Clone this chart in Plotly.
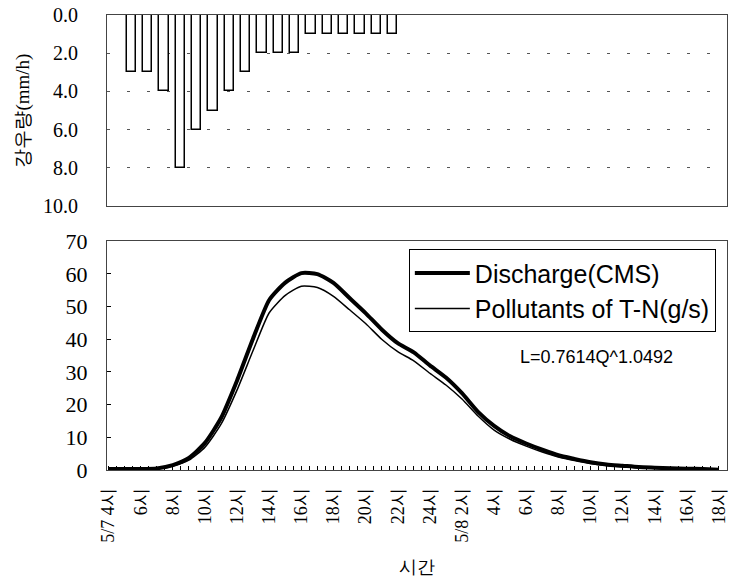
import plotly.graph_objects as go

# ---- data ----
hours = list(range(39))  # hour offsets from 5/7 04:00
tick_hours = list(range(0, 39, 2))
tick_labels = ["5/7 4시", "6시", "8시", "10시", "12시", "14시", "16시", "18시", "20시",
               "22시", "24시", "5/8 2시", "4시", "6시", "8시", "10시", "12시", "14시",
               "16시", "18시"]

rain_slot = list(range(1, 18))
rain = [3, 3, 4, 8, 6, 5, 4, 3, 2, 2, 2, 1, 1, 1, 1, 1, 1]

discharge = [0.3, 0.3, 0.3, 0.5, 1.5, 3.7, 8.3, 15.9, 27.4, 40.3, 52.0, 57.3, 60.2,
             59.9, 57.2, 52.6, 48.0, 43.0, 38.8, 36.0, 32.0, 28.3, 23.5, 17.8, 13.5,
             10.3, 8.1, 6.2, 4.5, 3.4, 2.4, 1.7, 1.3, 0.9, 0.7, 0.5, 0.4, 0.3, 0.1]
pollutant = [0.2, 0.2, 0.2, 0.4, 1.2, 3.0, 7.0, 14.0, 24.5, 36.6, 48.1, 53.4, 56.2,
             55.8, 53.1, 49.0, 44.8, 40.0, 36.2, 33.4, 29.6, 26.0, 21.7, 16.5, 12.2,
             9.4, 7.3, 5.5, 4.0, 2.9, 2.0, 1.4, 1.0, 0.7, 0.5, 0.4, 0.3, 0.2, 0.1]

serif = "Liberation Serif"
sans = "Liberation Sans"

fig = go.Figure()

fig.add_trace(go.Bar(x=rain_slot, y=rain, width=0.57,
                     marker=dict(color="white", line=dict(color="black", width=1.5)),
                     xaxis="x", yaxis="y", showlegend=False))

fig.add_trace(go.Scatter(x=hours, y=discharge, mode="lines", name="Discharge(CMS)",
                         line=dict(color="black", width=4, shape="spline", smoothing=0.6),
                         xaxis="x2", yaxis="y2"))
fig.add_trace(go.Scatter(x=hours, y=pollutant, mode="lines", name="Pollutants of T-N(g/s)",
                         line=dict(color="black", width=1.5, shape="spline", smoothing=0.6),
                         xaxis="x2", yaxis="y2"))

grid_style = dict(gridcolor="#555", gridwidth=1, griddash="3px,17px")

fig.update_layout(
    template="none",
    font=dict(family=serif, color="black"),
    width=730, height=582,
    margin=dict(l=107, r=3, t=15, b=112),
    paper_bgcolor="white", plot_bgcolor="white",
    xaxis=dict(domain=[0, 1], anchor="y", range=[-0.5, 37.5], showticklabels=False,
               ticks="", showgrid=False, zeroline=False, showline=True, mirror=True,
               linecolor="#444", linewidth=1),
    yaxis=dict(domain=[0.58, 1], anchor="x", range=[10, 0], tickvals=[0, 2, 4, 6, 8, 10],
               tickformat=".1f", showgrid=True, **grid_style, zeroline=False,
               showline=True, mirror=True, linecolor="#444", linewidth=1, ticks="",
               ticklabelstandoff=24,
               tickfont=dict(family=serif, size=20, color="black"),
               title=dict(text="강우량(mm/h)", standoff=8,
                          font=dict(family=serif, size=19, color="black"))),
    xaxis2=dict(domain=[0, 1], anchor="y2", range=[-0.1, 38.5], tickvals=tick_hours,
                ticktext=tick_labels, tickangle=-90, ticks="inside", ticklen=4,
                tickcolor="black",
                minor=dict(dtick=0.5, tick0=0, ticks="inside", ticklen=4, tickcolor="black"),
                showgrid=False, zeroline=False, showline=True, mirror=True,
                linecolor="#444", linewidth=1, ticklabelstandoff=10,
                tickfont=dict(family=serif, size=18, color="black"),
                title=dict(text="시간", standoff=18,
                           font=dict(family=serif, size=18, color="black"))),
    yaxis2=dict(domain=[0, 0.503], anchor="x2", range=[0, 70], dtick=10,
                showgrid=False, zeroline=False, showline=True, mirror=True,
                linecolor="#444", linewidth=1, ticks="inside", ticklen=4,
                tickcolor="black", ticklabelstandoff=14,
                tickfont=dict(family=serif, size=22, color="black")),
    yaxis3=dict(overlaying="y2", anchor="x2", range=[0, 70], tickvals=[20, 30, 60],
                showticklabels=False, ticks="", showgrid=True, **grid_style,
                zeroline=False, showline=False),
    legend=dict(x=0.982, xanchor="right", y=0.485, yanchor="top", itemwidth=55,
                bgcolor="white", bordercolor="black", borderwidth=1,
                font=dict(family=sans, size=25, color="black")),
    annotations=[dict(x=30.35, y=34.5, xref="x2", yref="y2", text="L=0.7614Q^1.0492",
                      showarrow=False, font=dict(family=sans, size=18, color="black"))],
    bargap=0,
)

fig.write_html("out.html")
